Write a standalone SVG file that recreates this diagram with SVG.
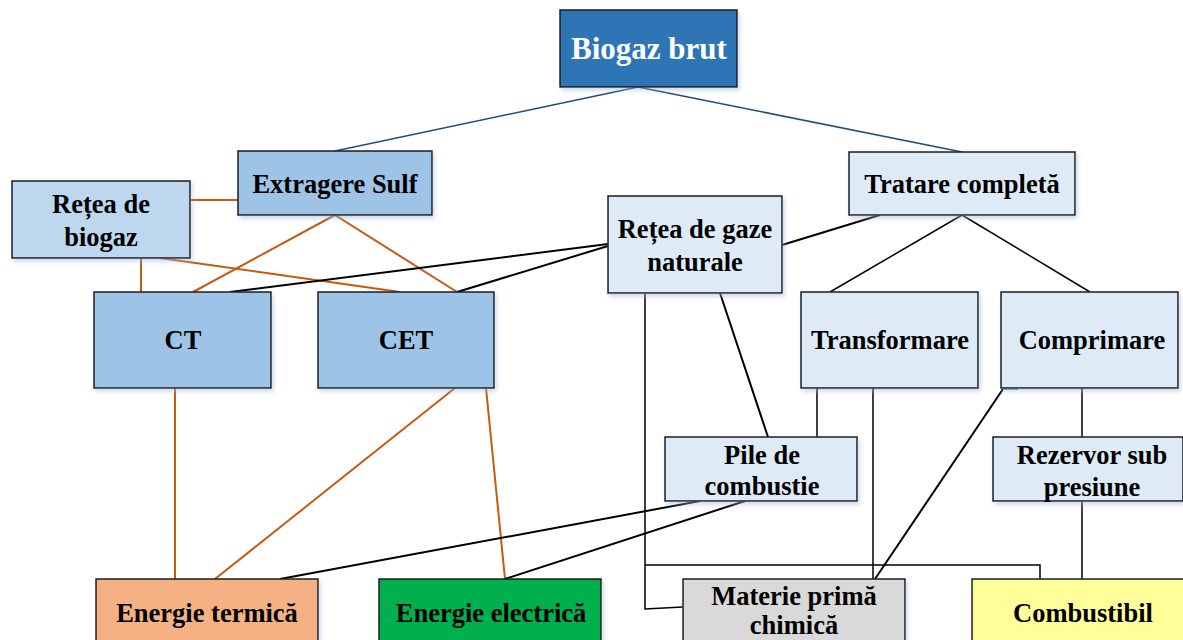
<svg xmlns="http://www.w3.org/2000/svg" width="1183" height="640" viewBox="0 0 1183 640">
<defs>
<filter id="sh" x="-10%" y="-10%" width="130%" height="140%">
<feDropShadow dx="2" dy="3" stdDeviation="2" flood-color="#9DB7D6" flood-opacity="0.5"/>
</filter>
</defs>
<style>
.box{stroke:#1a1a1a;stroke-width:1.5;filter:url(#sh)}
.t{font-family:"Liberation Serif","Times New Roman",serif;font-weight:bold;font-size:26.5px;fill:#000;text-anchor:middle}
.tw{fill:#fff;font-size:31px}
.b{stroke:#1F4E79;stroke-width:1.5;fill:none}
.o{stroke:#C55A11;stroke-width:2;fill:none}
.k{stroke:#000;stroke-width:2;fill:none}
.k1{stroke:#000;stroke-width:1.5;fill:none}
</style>
<rect width="1183" height="640" fill="#fff"/>
<g id="connectors">
<line class="b" x1="638" y1="87" x2="335" y2="151"/>
<line class="b" x1="638" y1="87" x2="962" y2="152"/>
<line class="o" x1="190" y1="200" x2="238" y2="200"/>
<line class="o" x1="335" y1="215" x2="193" y2="292"/>
<line class="o" x1="335" y1="215" x2="457" y2="292"/>
<line class="o" x1="141" y1="258" x2="141" y2="292"/>
<line class="o" x1="160" y1="258" x2="400" y2="292"/>
<line class="o" x1="175" y1="388" x2="175" y2="579"/>
<line class="o" x1="455" y1="388" x2="215" y2="579"/>
<line class="o" x1="486" y1="388" x2="505" y2="579"/>
<line class="k" x1="608" y1="244" x2="230" y2="292"/>
<line class="k" x1="608" y1="246" x2="457" y2="292"/>
<line class="k" x1="782" y1="245" x2="880" y2="215"/>
<line class="k1" x1="962" y1="215" x2="830" y2="292"/>
<line class="k1" x1="962" y1="215" x2="1090" y2="292"/>
<polyline class="k1" points="645,293 645,609 683,607"/>
<polyline class="k1" points="645,565 1040,565 1040,579"/>
<line class="k" x1="720" y1="293" x2="768" y2="437"/>
<line class="k1" x1="817" y1="388" x2="817" y2="437"/>
<line class="k1" x1="873" y1="388" x2="873" y2="579"/>
<line class="k" x1="1003" y1="389" x2="875" y2="579"/>
<line stroke="#5B9BD5" stroke-width="2" x1="1003" y1="389" x2="1018" y2="389"/>
<line class="k1" x1="1082" y1="388" x2="1082" y2="437"/>
<line class="k1" x1="1082" y1="501" x2="1082" y2="579"/>
<line class="k" x1="700" y1="501" x2="280" y2="579"/>
<line class="k" x1="745" y1="501" x2="505" y2="579"/>
</g>
<g id="biogaz-brut"><rect class="box" x="560" y="10" width="177" height="77" fill="#2E75B6"/><text class="t tw" x="649" y="59">Biogaz brut</text></g>
<g id="extragere-sulf"><rect class="box" x="238" y="151" width="194" height="64" fill="#9DC3E6"/><text class="t" x="335" y="193">Extragere Sulf</text></g>
<g id="retea-biogaz"><rect class="box" x="12" y="181" width="178" height="77" fill="#BDD7EE"/><text class="t" x="101" y="213">Rețea de</text><text class="t" x="101" y="246">biogaz</text></g>
<g id="tratare-completa"><rect class="box" x="849" y="152" width="226" height="63" fill="#DEEBF7"/><text class="t" x="962" y="193">Tratare completă</text></g>
<g id="retea-gaze"><rect class="box" x="608" y="196" width="174" height="97" fill="#DEEBF7"/><text class="t" x="695" y="238">Rețea de gaze</text><text class="t" x="695" y="271">naturale</text></g>
<g id="ct"><rect class="box" x="94" y="292" width="177" height="96" fill="#9DC3E6"/><text class="t" x="183" y="349">CT</text></g>
<g id="cet"><rect class="box" x="318" y="292" width="176" height="96" fill="#9DC3E6"/><text class="t" x="406" y="349">CET</text></g>
<g id="transformare"><rect class="box" x="801" y="292" width="177" height="96" fill="#DEEBF7"/><text class="t" x="890" y="349">Transformare</text></g>
<g id="comprimare"><rect class="box" x="1001" y="292" width="177" height="96" fill="#DEEBF7"/><text class="t" x="1092" y="349">Comprimare</text></g>
<g id="pile-combustie"><rect class="box" x="665" y="437" width="192" height="64" fill="#DEEBF7"/><text class="t" x="762" y="464">Pile de</text><text class="t" x="762" y="495">combustie</text></g>
<g id="rezervor"><rect class="box" x="993" y="437" width="190" height="64" fill="#DEEBF7"/><text class="t" x="1092" y="464">Rezervor sub</text><text class="t" x="1092" y="496">presiune</text></g>
<g id="energie-termica"><rect class="box" x="96" y="579" width="222" height="70" fill="#F4B183"/><text class="t" x="207" y="622">Energie termică</text></g>
<g id="energie-electrica"><rect class="box" x="379" y="579" width="222" height="70" fill="#00B050"/><text class="t" x="491" y="622">Energie electrică</text></g>
<g id="materie-prima"><rect class="box" x="683" y="579" width="222" height="70" fill="#D9D9D9"/><text class="t" x="794" y="605">Materie primă</text><text class="t" x="794" y="634">chimică</text></g>
<g id="combustibil"><rect class="box" x="972" y="579" width="220" height="70" fill="#FFFF99"/><text class="t" x="1083" y="622">Combustibil</text></g>
</svg>
